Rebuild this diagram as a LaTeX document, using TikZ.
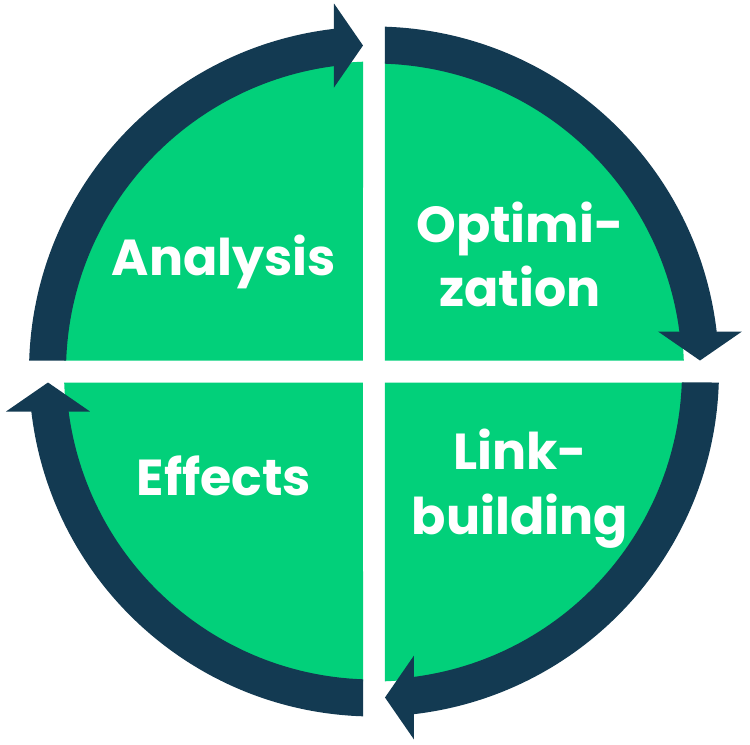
\documentclass[tikz,border=0pt]{standalone}
\usepackage{fontspec}
\setmainfont{Poppins}
\usetikzlibrary{calc}
\definecolor{quadgreen}{RGB}{2,208,122}
\definecolor{ringnavy}{RGB}{19,58,82}
\newcommand{\gapw}{0.11}
\newcommand{\greenr}{3.10}
\newcommand{\ringin}{3.08}
\newcommand{\ringout}{3.45}
\newcommand{\ringmid}{3.26}
\newcommand{\headx}{0.40}
\newcommand{\headhalf}{0.42}
\tikzset{
	quad/.style={fill=quadgreen},
	ring/.style={fill=ringnavy},
	steptext/.style={text=white, align=center,
		font=\fontsize{14.4}{18.4}\selectfont\bfseries}
}

\begin{document}
\begin{tikzpicture}
				\useasboundingbox (-3.74,-3.725) rectangle (3.76,3.715);
				
				% Quadrants with ring segments, turned clockwise
				\foreach \i in {0,1,2,3} {
					\begin{scope}[rotate=-90*\i]
						% green quarter
						\fill[quad] (-\gapw,\gapw) -- ({180-asin(\gapw/\greenr)}:\greenr)
						arc[start angle={180-asin(\gapw/\greenr)}, end angle={90+asin(\gapw/\greenr)}, radius=\greenr] -- cycle;
						
						% ring band
						\fill[ring] ({180-asin(\gapw/\ringout)}:\ringout)
						arc[start angle={180-asin(\gapw/\ringout)}, end angle={90+asin((\headx-0.01)/\ringout)}, radius=\ringout]
						-- ({90+asin((\headx-0.01)/\ringin)}:\ringin)
						arc[start angle={90+asin((\headx-0.01)/\ringin)}, end angle={180-asin(\gapw/\ringin)}, radius=\ringin] -- cycle;
						
						% arrow head
						\fill[ring] (-\headx,{\ringmid+\headhalf}) -- (-\gapw,\ringmid) -- (-\headx,{\ringmid-\headhalf}) -- cycle;
					\end{scope}
				}
				
				% Step labels
				\node[steptext] (analysis) at (-1.50,1.10) {Analysis};
				\node[steptext] (optimization) at (1.46,1.17) {Optimi-\\zation};
				\node[steptext] (linkbuilding) at (1.46,-1.17) {Link-\\building};
				\node[steptext] (effects) at (-1.50,-1.04) {Effects};
			\end{tikzpicture}
\end{document}
